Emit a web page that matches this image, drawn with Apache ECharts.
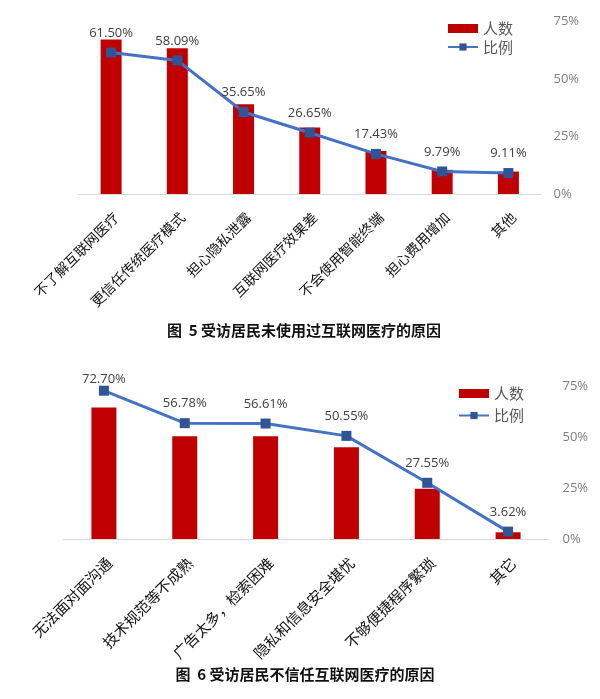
<!DOCTYPE html>
<html>
<head>
<meta charset="utf-8">
<script src="https://cdn.jsdelivr.net/npm/echarts@6/dist/echarts.min.js"></script>
<style>
html,body{margin:0;padding:0;background:#fff;}
#c{width:600px;height:699px;}
</style>
</head>
<body>
<div id="c"></div>
<script>
// Figure 5
var cats1 = ['不了解互联网医疗','更信任传统医疗模式','担心隐私泄露','互联网医疗效果差','不会使用智能终端','担心费用增加','其他'];
var count1 = [179, 169, 104, 77, 50, 28, 26];
var pct1 = [61.50, 58.09, 35.65, 26.65, 17.43, 9.79, 9.11];
var title1 = '图  5 受访居民未使用过互联网医疗的原因';
// Figure 6
var cats2 = ['无法面对面沟通','技术规范等不成熟','广告太多，检索困难','隐私和信息安全堪忧','不够便捷程序繁琐','其它'];
var count2 = [215, 168, 168, 150, 82, 11];
var pct2 = [72.70, 56.78, 56.61, 50.55, 27.55, 3.62];
var title2 = '图  6 受访居民不信任互联网医疗的原因';
var pctTicks = [0, 25, 50, 75];

var FONT = "'Open Sans','Noto Sans CJK SC',sans-serif";
var CJK = "'Noto Sans CJK SC',sans-serif";
var chart = echarts.init(document.getElementById('c'), null, {renderer:'canvas'});

function xAx(idx, cats, fs, m){
  return {type:'category', gridIndex:idx, data:cats,
    axisLine:{lineStyle:{color:'#d9d9d9', width:1}}, axisTick:{show:false},
    axisLabel:{rotate:45, interval:0, color:'#111', fontSize:fs, fontFamily:CJK, margin:m, verticalAlign:'top'}};
}
function yLeft(idx, max){
  return {type:'value', gridIndex:idx, min:0, max:max, show:false, splitLine:{show:false}};
}
function yRight(idx, m){
  return {type:'value', gridIndex:idx, position:'right', min:pctTicks[0], max:pctTicks[pctTicks.length-1], interval:25,
    axisLine:{show:false}, axisTick:{show:false}, splitLine:{show:false},
    axisLabel:{formatter:'{value}%', color:'#7f7f7f', fontSize:13, fontFamily:FONT, margin:m}};
}
function lineData(arr, firstDist){
  return arr.map(function(v,i){
    var d = {value:v};
    if (i===0 && firstDist!=null) d.label = {distance:firstDist};
    return d;
  });
}
function lineSeries(xi, yi, arr, firstDist){
  return {name:'比例', type:'line', xAxisIndex:xi, yAxisIndex:yi, data:lineData(arr, firstDist),
    symbol:'rect', symbolSize:10,
    lineStyle:{color:'#4472c4', width:3},
    itemStyle:{color:'#2f5597'},
    label:{show:true, position:'top', distance:8, color:'#404040', fontSize:13, fontFamily:FONT,
      formatter:function(p){return p.value.toFixed(2)+'%';}},
    z:3};
}
function barSeries(xi, yi, arr, bw){
  return {name:'人数', type:'bar', xAxisIndex:xi, yAxisIndex:yi, data:arr, barWidth:bw,
    itemStyle:{color:'#c00000'}, z:2};
}
function legend(left, top, gap){
  return {orient:'vertical', left:left, top:top, padding:0, itemWidth:30, itemHeight:9, itemGap:gap,
    textStyle:{color:'#595959', fontSize:15, fontFamily:CJK},
    data:[{name:'人数', icon:'rect'}, {name:'比例'}]};
}

chart.setOption({
  animation:false,
  backgroundColor:'#fff',
  grid:[
    {left:78, right:58.5, top:21.5, bottom:505, containLabel:false},
    {left:63.5, right:51.5, top:386, bottom:160, containLabel:false}
  ],
  xAxis:[xAx(0,cats1,14,16), xAx(1,cats2,15,16)],
  yAxis:[yLeft(0,200), yRight(0,12), yLeft(1,250), yRight(1,14)],
  legend:[legend(447,21,3.5), legend(458,386,7)],
  series:[
    barSeries(0,0,count1,21), lineSeries(0,1,pct1,null),
    barSeries(1,2,count2,25), lineSeries(1,3,pct2,0)
  ],
  graphic:[
    {type:'text', x:304, y:330, style:{text:title1, font:'bold 15px '+CJK, fill:'#111', textAlign:'center', textVerticalAlign:'middle'}},
    {type:'text', x:305, y:674, style:{text:title2, font:'bold 15px '+CJK, fill:'#111', textAlign:'center', textVerticalAlign:'middle'}}
  ]
});
</script>
</body>
</html>
